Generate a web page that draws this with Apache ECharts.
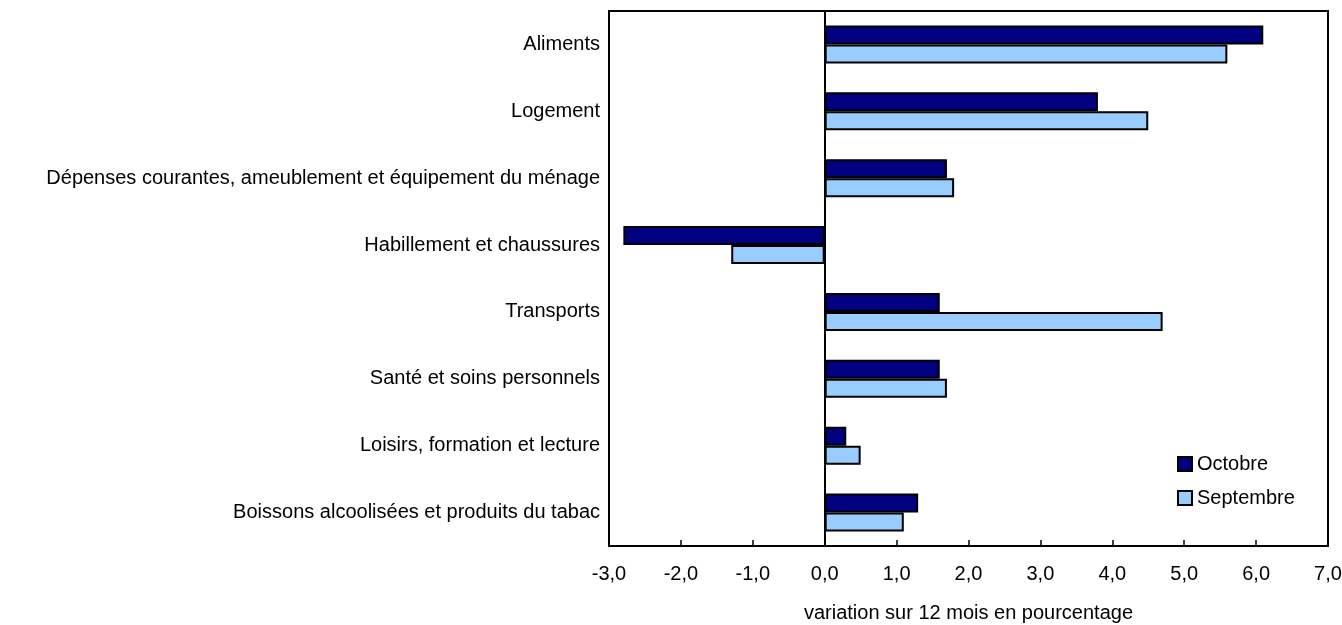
<!DOCTYPE html>
<html>
<head>
<meta charset="utf-8">
<script src="https://cdn.jsdelivr.net/npm/echarts@6/dist/echarts.min.js"></script>
<style>html,body{margin:0;padding:0;background:#fff}#c{width:1342px;height:625px}</style>
</head>
<body>
<div id="c"></div>
<script>
const categories = [
  "Aliments",
  "Logement",
  "Dépenses courantes, ameublement et équipement du ménage",
  "Habillement et chaussures",
  "Transports",
  "Santé et soins personnels",
  "Loisirs, formation et lecture",
  "Boissons alcoolisées et produits du tabac"
];
const octobre = [6.1, 3.8, 1.7, -2.8, 1.6, 1.6, 0.3, 1.3];
const septembre = [5.6, 4.5, 1.8, -1.3, 4.7, 1.7, 0.5, 1.1];
const seriesNames = ["Octobre", "Septembre"];
const xTitle = "variation sur 12 mois en pourcentage";

const font = "'Liberation Sans', Arial, sans-serif";
const chart = echarts.init(document.getElementById('c'), null, {renderer: 'canvas'});
chart.setOption({
  animation: false,
  backgroundColor: '#fff',
  textStyle: {fontFamily: font, color: '#000'},
  grid: {left: 609, right: 14, top: 11, bottom: 79, containLabel: false, outerBoundsMode: 'none',
    show: true, borderColor: '#000', borderWidth: 2, backgroundColor: 'transparent'},
  legend: {
    orient: 'vertical', left: 1172, top: 449, itemWidth: 14, itemHeight: 14, itemGap: 14,
    icon: 'rect',
    textStyle: {fontFamily: font, fontSize: 20, color: '#000'},
    data: seriesNames
  },
  xAxis: {
    type: 'value', min: -3, max: 7, interval: 1,
    name: xTitle, nameLocation: 'middle', nameGap: 57,
    nameTextStyle: {fontFamily: font, fontSize: 20, color: '#000'},
    axisLine: {show: true, lineStyle: {color: '#000', width: 2}},
    axisTick: {show: true, inside: true, length: 6, lineStyle: {color: '#000', width: 1.5}},
    axisLabel: {fontFamily: font, fontSize: 20, color: '#000', margin: 18,
      formatter: v => v.toFixed(1).replace('.', ',')},
    splitLine: {show: false}
  },
  yAxis: {
    type: 'category', data: categories, inverse: true,
    axisLine: {show: true, onZero: true, lineStyle: {color: '#000', width: 2}},
    axisTick: {show: false},
    axisLabel: {fontFamily: font, fontSize: 20, color: '#000', margin: 9}
  },
  series: [
    {name: seriesNames[0], type: 'bar', data: octobre, barWidth: 19, barGap: '0%',
     itemStyle: {color: '#000080', borderColor: '#000', borderWidth: 2}},
    {name: seriesNames[1], type: 'bar', data: septembre, barWidth: 19, barGap: '0%',
     itemStyle: {color: '#99ccff', borderColor: '#000', borderWidth: 2}}
  ]
});
</script>
</body>
</html>
